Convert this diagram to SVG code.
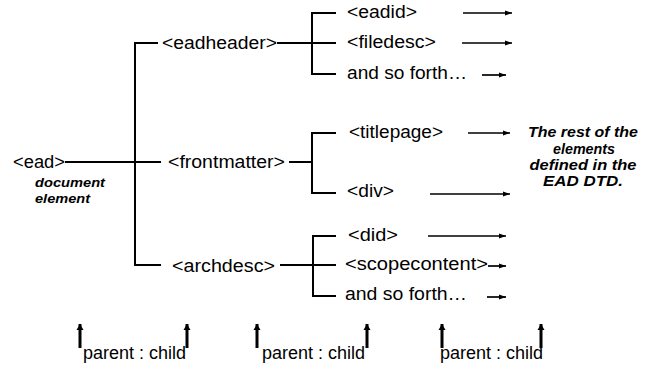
<svg xmlns="http://www.w3.org/2000/svg" width="651" height="367" viewBox="0 0 651 367">
<defs>
<marker id="ar" markerUnits="userSpaceOnUse" markerWidth="8" markerHeight="6" refX="7" refY="3" orient="auto">
<path d="M0,0.5 L7,3 L0,5.5 Z" fill="#000"/>
</marker>
<marker id="au" markerUnits="userSpaceOnUse" markerWidth="8" markerHeight="8" refX="6" refY="4" orient="auto">
<path d="M0,0.5 L6,4 L0,7.5 Z" fill="#000"/>
</marker>
</defs>
<style>
text{font-family:"Liberation Sans",Arial,sans-serif;font-size:17.5px;fill:#000}
.bi{font-weight:bold;font-style:italic;font-size:13.5px}
.r{font-weight:bold;font-style:italic;font-size:14.5px}
.t{fill:none;stroke:#000;stroke-width:2}
.a{fill:none;stroke:#000;stroke-width:1.7;marker-end:url(#ar)}
.u{fill:none;stroke:#000;stroke-width:3;marker-end:url(#au)}
</style>
<rect width="651" height="367" fill="#fff"/>
<g id="connectors">
<path class="t" d="M65,162 H135"/>
<path class="t" d="M158,43 H135 V265 H161"/>
<path class="t" d="M135,162 H161"/>
<path class="t" d="M277,43 H336"/>
<path class="t" d="M336,13 H312 V74 H336"/>
<path class="t" d="M289,162 H312"/>
<path class="t" d="M336,133 H312 V193 H336"/>
<path class="t" d="M280,265 H336"/>
<path class="t" d="M336,236 H313 V296 H336"/>
<path class="a" d="M463,13 H512"/>
<path class="a" d="M462,43 H512"/>
<path class="a" d="M482,75 H506"/>
<path class="a" d="M468,133 H510"/>
<path class="a" d="M430,194 H510"/>
<path class="a" d="M428,236 H506"/>
<path class="a" d="M488,266 H506"/>
<path class="a" d="M487,297 H506"/>
<path class="u" d="M80,348 V324"/>
<path class="u" d="M187,348 V324"/>
<path class="u" d="M257,348 V324"/>
<path class="u" d="M367,348 V324"/>
<path class="u" d="M442,348 V324"/>
<path class="u" d="M541,348 V324"/>
</g>
<g id="ead">
<text x="13" y="168" textLength="52" lengthAdjust="spacingAndGlyphs">&lt;ead&gt;</text>
<text class="bi" x="35" y="187" textLength="70" lengthAdjust="spacingAndGlyphs">document</text>
<text class="bi" x="35" y="203" textLength="55" lengthAdjust="spacingAndGlyphs">element</text>
</g>
<g id="eadheader"><text x="162" y="49" textLength="115" lengthAdjust="spacingAndGlyphs">&lt;eadheader&gt;</text></g>
<g id="frontmatter"><text x="168" y="168" textLength="117" lengthAdjust="spacingAndGlyphs">&lt;frontmatter&gt;</text></g>
<g id="archdesc"><text x="172" y="272" textLength="103" lengthAdjust="spacingAndGlyphs">&lt;archdesc&gt;</text></g>
<g id="eadid"><text x="347" y="18" textLength="70" lengthAdjust="spacingAndGlyphs">&lt;eadid&gt;</text></g>
<g id="filedesc"><text x="347" y="48" textLength="89" lengthAdjust="spacingAndGlyphs">&lt;filedesc&gt;</text></g>
<g id="andsoforth1"><text x="347" y="79" textLength="120" lengthAdjust="spacingAndGlyphs">and so forth…</text></g>
<g id="titlepage"><text x="349" y="138" textLength="94" lengthAdjust="spacingAndGlyphs">&lt;titlepage&gt;</text></g>
<g id="div"><text x="347" y="197" textLength="47" lengthAdjust="spacingAndGlyphs">&lt;div&gt;</text></g>
<g id="did"><text x="348" y="241" textLength="50" lengthAdjust="spacingAndGlyphs">&lt;did&gt;</text></g>
<g id="scopecontent"><text x="345" y="270" textLength="143" lengthAdjust="spacingAndGlyphs">&lt;scopecontent&gt;</text></g>
<g id="andsoforth2"><text x="345" y="300" textLength="122" lengthAdjust="spacingAndGlyphs">and so forth…</text></g>
<g id="rest">
<text class="r" x="583" y="137" text-anchor="middle" textLength="110" lengthAdjust="spacingAndGlyphs">The rest of the</text>
<text class="r" x="584" y="154" text-anchor="middle" textLength="62" lengthAdjust="spacingAndGlyphs">elements</text>
<text class="r" x="583" y="170" text-anchor="middle" textLength="107" lengthAdjust="spacingAndGlyphs">defined in the</text>
<text class="r" x="583" y="186" text-anchor="middle" textLength="80" lengthAdjust="spacingAndGlyphs">EAD DTD.</text>
</g>
<g id="labels">
<text x="83" y="359" textLength="103" lengthAdjust="spacingAndGlyphs">parent : child</text>
<text x="262" y="359" textLength="103" lengthAdjust="spacingAndGlyphs">parent : child</text>
<text x="440" y="359" textLength="103" lengthAdjust="spacingAndGlyphs">parent : child</text>
</g>
</svg>
